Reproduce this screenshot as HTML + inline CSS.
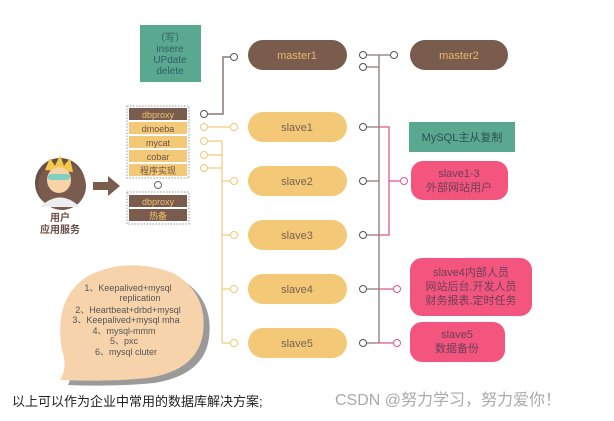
<!DOCTYPE html>
<html><head><meta charset="utf-8"><style>
body{margin:0;background:#fff;width:614px;height:416px;overflow:hidden;font-family:"Liberation Sans","Noto Sans CJK SC",sans-serif}
svg text{font-family:"Liberation Sans","Noto Sans CJK SC",sans-serif}
</style></head><body>
<svg width="614" height="416" viewBox="0 0 614 416">
<!-- teal box -->
<rect x="140" y="25" width="61" height="57" fill="#5aa88f"/>
<g fill="#2f5f66" font-size="10" text-anchor="middle">
<text x="170" y="41">（写）</text><text x="170" y="52">insere</text><text x="170" y="63">UPdate</text><text x="170" y="74">delete</text></g>
<!-- proxy stack -->
<rect x="127" y="106" width="62" height="72" fill="none" stroke="#999" stroke-dasharray="1.5,1.5"/>
<rect x="129" y="108" width="58" height="12" fill="#7a5c4e"/>
<rect x="129" y="122" width="58" height="12" fill="#f3c978"/>
<rect x="129" y="136" width="58" height="12" fill="#f3c978"/>
<rect x="129" y="150" width="58" height="12" fill="#f3c978"/>
<rect x="129" y="164" width="58" height="12" fill="#f3c978"/>
<g font-size="9" text-anchor="middle"><text x="158" y="118" fill="#f0c070">dbproxy</text>
<text x="158" y="132" fill="#6b5445">dmoeba</text><text x="158" y="146" fill="#6b5445">mycat</text><text x="158" y="160" fill="#6b5445">cobar</text><text x="158" y="174" fill="#6b5445">程序实现</text></g>
<circle cx="158" cy="185" r="3.5" fill="#fff" stroke="#666"/>
<rect x="127" y="192" width="62" height="32" fill="none" stroke="#999" stroke-dasharray="1.5,1.5"/>
<rect x="129" y="195" width="58" height="12" fill="#7a5c4e"/><rect x="129" y="209" width="58" height="12" fill="#7a5c4e"/>
<g font-size="9" text-anchor="middle" fill="#f0c070"><text x="158" y="205">dbproxy</text><text x="158" y="219">热备</text></g>
<!-- avatar -->
<circle cx="60" cy="183" r="25" fill="#6b4f42"/>
<circle cx="62" cy="186" r="24" fill="#7a5c4e"/>
<path d="M45 170 L50 158 L55 166 L60 155 L64 166 L70 158 L73 172 Z" fill="#f4c94a"/>
<ellipse cx="59" cy="180" rx="12" ry="13" fill="#f6d3a8"/>
<rect x="48" y="174" width="22" height="6" rx="3" fill="#7fd0c0"/>
<path d="M40 207 Q60 188 80 207 Z" fill="#eee"/>
<text x="60" y="221" font-size="10" font-weight="bold" fill="#6b4f42" text-anchor="middle">用户</text>
<text x="60" y="233" font-size="10" font-weight="bold" fill="#6b4f42" text-anchor="middle">应用服务</text>
<path d="M93 182 H108 V176 L120 186 L108 196 V190 H93 Z" fill="#7a5c4e"/>
<!-- left connectors -->
<path d="M208 114 H223 V57 H230" stroke="#8a7a72" stroke-width="1.5" fill="none"/>
<circle cx="204" cy="114" r="3.5" fill="#fff" stroke="#555"/><circle cx="234" cy="57" r="3.5" fill="#fff" stroke="#555"/>
<g stroke="#f3c978" stroke-width="1.2" fill="none">
<path d="M208 127 H230"/><path d="M208 141 H222 M208 155 H222 M208 168 H222 M222 141 V343"/>
<path d="M222 181 H230 M222 235 H230 M222 289 H230 M222 343 H230"/></g>
<g fill="#fff" stroke="#f0c878">
<circle cx="204" cy="127" r="3.5"/><circle cx="204" cy="141" r="3.5"/><circle cx="204" cy="155" r="3.5"/><circle cx="204" cy="168" r="3.5"/>
<circle cx="234" cy="127" r="3.5"/><circle cx="234" cy="181" r="3.5"/><circle cx="234" cy="235" r="3.5"/><circle cx="234" cy="289" r="3.5"/><circle cx="234" cy="343" r="3.5"/></g>
<!-- nodes -->
<rect x="248" y="40" width="99" height="30" rx="15" fill="#7a5c4e"/>
<rect x="410" y="40" width="98" height="30" rx="15" fill="#7a5c4e"/>
<g fill="#f3c978"><rect x="248" y="112" width="99" height="30" rx="15"/><rect x="248" y="166" width="99" height="30" rx="15"/><rect x="248" y="220" width="99" height="30" rx="15"/><rect x="248" y="274" width="99" height="30" rx="15"/><rect x="248" y="328" width="99" height="30" rx="15"/></g>
<g font-size="11" text-anchor="middle"><text x="297" y="59" fill="#e8b868">master1</text><text x="459" y="59" fill="#e8b868">master2</text>
<g fill="#7a6050"><text x="297" y="131">slave1</text><text x="297" y="185">slave2</text><text x="297" y="239">slave3</text><text x="297" y="293">slave4</text><text x="297" y="347">slave5</text></g></g>
<!-- right connectors -->
<path d="M367 55 H390 M367 67 H379 M379 55 V343 M367 127 H379 M367 181 H379 M367 235 H379 M367 289 H379 M367 343 H379" stroke="#8a7a72" stroke-width="1.3" fill="none"/>
<path d="M379 127 H389 V235 H379 M389 181 H400 M379 289 H393 M379 343 H393" stroke="#e0578a" stroke-width="1.3" fill="none"/>
<g fill="#fff" stroke="#555"><circle cx="363" cy="55" r="3.5"/><circle cx="363" cy="67" r="3.5"/><circle cx="394" cy="55" r="3.5"/>
<circle cx="363" cy="127" r="3.5"/><circle cx="363" cy="181" r="3.5"/><circle cx="363" cy="235" r="3.5"/><circle cx="363" cy="289" r="3.5"/><circle cx="363" cy="343" r="3.5"/></g>
<g fill="#fff" stroke="#e0578a"><circle cx="404" cy="181" r="3.5"/><circle cx="397" cy="289" r="3.5"/><circle cx="397" cy="343" r="3.5"/></g>
<rect x="409" y="122" width="106" height="30" fill="#5aa88f"/>
<text x="462" y="141" font-size="11" fill="#2f4f55" text-anchor="middle">MySQL主从复制</text>
<rect x="411" y="161" width="97" height="39" rx="12" fill="#f4557f"/>
<g font-size="11" text-anchor="middle" fill="#6b3f55"><text x="459" y="177">slave1-3</text><text x="459" y="191">外部网站用户</text></g>
<rect x="410" y="258" width="122" height="58" rx="12" fill="#f4557f"/>
<g font-size="11" text-anchor="middle" fill="#6b3f55"><text x="471" y="276">slave4内部人员</text><text x="471" y="290">网站后台.开发人员</text><text x="471" y="304">财务报表.定时任务</text></g>
<rect x="410" y="322" width="95" height="40" rx="12" fill="#f4557f"/>
<g font-size="11" text-anchor="middle" fill="#6b3f55"><text x="457" y="338">slave5</text><text x="457" y="352">数据备份</text></g>
<!-- bubble -->
<path d="M64 382 Q70 370 64 352 Q55 300 90 278 Q130 258 175 275 Q210 295 205 335 Q200 372 150 380 Q110 384 64 382 Z" fill="#9a9a9a" transform="translate(4,3)"/>
<path d="M60 380 Q68 368 62 350 Q53 298 88 276 Q128 256 173 273 Q208 293 203 333 Q198 370 148 378 Q108 382 60 380 Z" fill="#f6d3aa"/>
<g font-size="9" fill="#555" text-anchor="middle"><text x="128" y="291">1、Keepalived+mysql</text><text x="140" y="301">replication</text>
<text x="128" y="313">2、Heartbeat+drbd+mysql</text><text x="126" y="323">3、Keepalived+mysql mha</text><text x="124" y="334">4、mysql-mmm</text><text x="124" y="344">5、pxc</text><text x="126" y="355">6、mysql cluter</text></g>
<!-- bottom -->
<text x="12" y="406" font-size="13" fill="#222">以上可以作为企业中常用的数据库解决方案;</text>
<text x="335" y="405" font-size="16" fill="#aaa">CSDN @努力学习，努力爱你！</text>
</svg>
</body></html>
